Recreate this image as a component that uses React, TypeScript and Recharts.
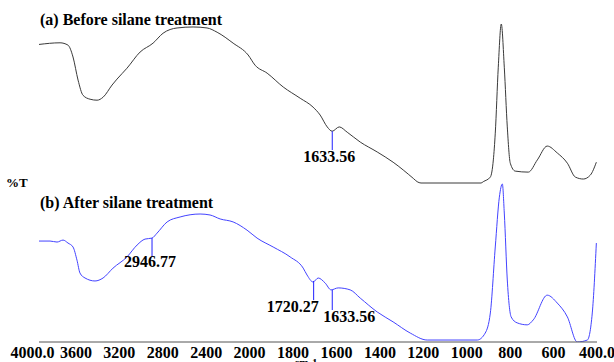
import { LineChart, Line, XAxis, YAxis, ReferenceLine, ReferenceDot } from "recharts";

// wavenumber (cm-1) / %T, trace (a) before silane treatment
const WAVENUMBER_A = [
  4000, 3804, 3730, 3683, 3636, 3590, 3524, 3459, 3403, 3319, 3273, 3180, 3058, 2937, 2844, 2713, 2564,
  2434, 2340, 2191, 2051, 1993, 1937, 1862, 1783, 1723, 1690, 1657, 1634, 1601, 1564, 1503, 1424, 1350,
  1256, 1238, 1220, 940, 930, 897, 883, 874, 860, 846, 832, 818, 804, 781, 720, 678, 632, 585, 538, 501,
  464, 431, 403,
];
const TRANS_A = [
  90.2, 90.7, 90.0, 86.4, 79.4, 74.8, 73.6, 73.3, 74.2, 77.9, 79.7, 83.0, 87.9, 90.6, 93.6, 95.2, 95.5,
  95.2, 93.9, 90.6, 87.0, 83.9, 81.5, 77.3, 73.9, 71.2, 68.8, 65.2, 63.9, 65.2, 63.6, 60.6, 57.6, 54.5,
  49.6, 48.6, 48.2, 48.2, 48.6, 50.0, 55.2, 63.3, 83.3, 96.4, 83.3, 65.2, 54.2, 51.8, 51.5, 55.2, 59.4,
  57.3, 54.2, 50.0, 49.4, 50.6, 54.5,
];

// trace (b) after silane treatment
const WAVENUMBER_B = [
  4000, 3897, 3832, 3776, 3730, 3683, 3646, 3618, 3571, 3478, 3403, 3310, 3180, 3086, 3012, 2947, 2900,
  2806, 2685, 2499, 2406, 2312, 2191, 2061, 1984, 1909, 1830, 1769, 1751, 1723, 1699, 1667, 1639, 1606,
  1550, 1503, 1424, 1350, 1270, 1191, 958, 921, 897, 874, 855, 841, 832, 818, 800, 772, 725, 697, 632,
  585, 538, 492, 445, 422, 403,
];
const TRANS_B = [
  30.6, 30.6, 30.3, 30.9, 30.0, 28.8, 24.8, 20.9, 19.4, 18.5, 19.4, 22.4, 25.8, 29.4, 31.2, 31.5, 33.0,
  36.4, 37.9, 38.8, 38.5, 37.3, 36.4, 33.9, 31.5, 28.8, 25.8, 22.4, 20.3, 18.2, 19.4, 17.9, 15.8, 16.4,
  15.8, 13.3, 9.1, 6.1, 2.7, 0.6, 0.6, 2.7, 8.8, 28.8, 43.9, 47.9, 39.1, 18.8, 7.6, 5.8, 5.2, 6.7, 14.2,
  11.8, 7.6, 0, 0.6, 8.8, 30.0,
];

const X_TICK_LABELS = [
  "4000.0", "3600", "3200", "2800", "2400", "2000", "1800", "1600", "1400", "1200", "1000", "800", "600", "400.0",
];

// peak labels: wavenumber, top/bottom of marker line (%T)
const PEAKS_A = [{ wn: 1633.56, top: 63.9, bottom: 58.2 }];
const PEAKS_B = [
  { wn: 2946.77, top: 31.5, bottom: 25.8 },
  { wn: 1720.27, top: 18.5, bottom: 12.7 },
  { wn: 1633.56, top: 15.8, bottom: 9.7 },
];

// the instrument axis is half scale above 2000 cm-1
const toPos = (wn: number) => (wn >= 2000 ? (4000 - wn) / 400 : 5 + (2000 - wn) / 200);

const dataA = WAVENUMBER_A.map((wn, i) => ({ pos: toPos(wn), t: TRANS_A[i] }));
const dataB = WAVENUMBER_B.map((wn, i) => ({ pos: toPos(wn), t: TRANS_B[i] }));

const SERIF = "'Liberation Serif', 'Times New Roman', Times, serif";
const bold = { fontFamily: SERIF, fontWeight: 700 };

const XTick = (props: any) => {
  const { x, y, index } = props;
  return (
    <text x={x - 0.5 * (13 - index)} y={y + 8} textAnchor="middle" style={bold} fontSize={16} fill="#000">
      {X_TICK_LABELS[index]}
    </text>
  );
};

const peakText = (label: string, dx: number, dy: number, anchor: string) => (p: any) => (
  <text x={p.cx + dx} y={p.cy + dy} textAnchor={anchor} style={bold} fontSize={16} fill="#000">
    {label}
  </text>
);

const labelStyle: Record<string, { dx: number; dy: number; anchor: string }> = {
  "a1633.56": { dx: -3, dy: 12, anchor: "middle" },
  "b2946.77": { dx: -2, dy: 10, anchor: "middle" },
  "b1720.27": { dx: 5, dy: 12, anchor: "end" },
  "b1633.56": { dx: -9, dy: 12, anchor: "start" },
};

export default function App() {
  const peaks = [
    ...PEAKS_A.map((p) => ({ ...p, key: "a" + p.wn.toFixed(2) })),
    ...PEAKS_B.map((p) => ({ ...p, key: "b" + p.wn.toFixed(2) })),
  ];
  return (
    <div style={{ position: "absolute", left: 0, top: 0, width: 614, height: 362, background: "#fff" }}>
      <LineChart width={614} height={362} margin={{ top: 24, right: 17, bottom: 0, left: 39 }}>
        <XAxis
          type="number"
          dataKey="pos"
          domain={[0, 13]}
          ticks={[0, 1, 2, 3, 4, 5, 6, 7, 8, 9, 10, 11, 12, 13]}
          height={20}
          tickLine={false}
          axisLine={{ stroke: "#555" }}
          tick={<XTick />}
          interval={0}
          allowDataOverflow
        />
        <YAxis
          type="number"
          domain={[0, 96.4]}
          ticks={[10, 20, 30, 40, 50, 60, 70, 80, 90]}
          width={0}
          tick={false}
          tickSize={3}
          tickLine={{ stroke: "#555" }}
          axisLine={{ stroke: "#555" }}
          allowDataOverflow
        />
        <Line
          data={dataA}
          dataKey="t"
          type="monotone"
          stroke="#3a3a3a"
          strokeWidth={1}
          dot={false}
          isAnimationActive={false}
        />
        <Line
          data={dataB}
          dataKey="t"
          type="monotone"
          stroke="#4343ff"
          strokeWidth={1}
          dot={false}
          isAnimationActive={false}
        />
        {peaks.map((p) => (
          <ReferenceLine
            key={"l" + p.key}
            segment={[
              { x: toPos(p.wn), y: p.top },
              { x: toPos(p.wn), y: p.bottom },
            ]}
            stroke="#2020ff"
            strokeWidth={1}
            ifOverflow="visible"
          />
        ))}
        {peaks.map((p) => {
          const s = labelStyle[p.key];
          return (
            <ReferenceDot
              key={"d" + p.key}
              x={toPos(p.wn)}
              y={p.bottom}
              r={0}
              ifOverflow="visible"
              shape={peakText(p.wn.toFixed(2), s.dx, s.dy, s.anchor)}
            />
          );
        })}
      </LineChart>
      <svg
        width={614}
        height={362}
        style={{ position: "absolute", left: 0, top: 0, pointerEvents: "none" }}
      >
        <text x={40} y={25} fontSize={16} fill="#000" style={bold}>
          (a) Before silane treatment
        </text>
        <text x={40} y={208} fontSize={16} fill="#000" style={bold}>
          (b) After silane treatment
        </text>
        <text x={6} y={187} fontSize={13} fill="#000" style={bold}>
          %T
        </text>
        <text x={306} y={366} fontSize={11} textAnchor="middle" fill="#000" style={bold}>
          cm-1
        </text>
      </svg>
    </div>
  );
}
